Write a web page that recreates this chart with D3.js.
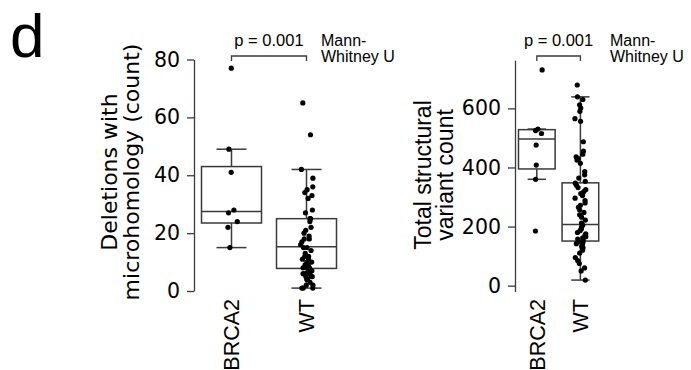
<!DOCTYPE html>
<html>
<head>
<meta charset="utf-8">
<script src="https://cdn.jsdelivr.net/npm/d3@7"></script>
<style>
body { margin: 0; background: #fff; }
svg { display: block; }
</style>
</head>
<body>
<svg id="chart" width="691" height="370"></svg>
<script>
var categories = ["BRCA2", "WT"];

// deletions with microhomology (count)
var delBRCA2 = [77, 49, 41, 28, 27, 24, 22, 15];
var delWT = [65, 54, 42, 39, 36, 35, 34, 33, 32, 28, 27, 25, 25, 24, 22, 21, 20, 19,
	18, 18, 17, 16, 15, 15, 14, 13, 12, 12, 11, 11, 10, 10, 9, 9, 8, 8, 8, 7, 7, 7,
	6, 6, 6, 5, 5, 5, 4, 4, 3, 2, 2, 1, 1, 1];
var delQ1 = [23.5, 7.8];
var delMedian = [27.5, 15.3];
var delQ3 = [43, 25];
var delWhiskerLo = [15, 1];
var delWhiskerHi = [49, 42];
var delTicks = [0, 20, 40, 60, 80];

// total structural variant count
var svBRCA2 = [730, 530, 525, 515, 476, 408, 360, 185];
var svWT = [679, 639, 630, 612, 601, 590, 565, 556, 487, 455, 445, 436, 430, 425, 414,
	386, 375, 364, 353, 347, 340, 332, 325, 318, 312, 305, 296, 288, 280, 272, 265,
	257, 248, 240, 232, 222, 212, 205, 198, 192, 186, 180, 175, 170, 166, 162, 158,
	154, 150, 146, 142, 138, 133, 128, 120, 110, 95, 85, 75, 60, 50, 19];
var svQ1 = [395, 151];
var svMedian = [496, 207];
var svQ3 = [528, 348];
var svWhiskerLo = [360, 19];
var svWhiskerHi = [530, 639];
var svTicks = [0, 200, 400, 600];

var pValue = "p = 0.001";

var svg = d3.select("#chart");

var INK = "#3a3a3a";
var SANS = "Liberation Sans, Arial, sans-serif";

svg.append("text") //
.attr("x", 10) //
.attr("y", 57) //
.attr("font-family", SANS) //
.attr("font-size", 62) //
.attr("fill", "#000") //
.text("d");

function drawPanel(p) {

	var g = svg.append("g");

	var x = d3.scaleLinear().domain([ 0, 2 ]).range(p.xRange);
	var y = d3.scaleLinear().domain(p.yDomain).range(p.yRange);
	var unit = x(1) - x(0);
	var boxW = unit * p.boxFrac;

	// y axis
	var axis = g.append("g") //
	.attr("transform", "translate(" + p.xRange[0] + ",0)") //
	.call(d3.axisLeft(y).tickValues(p.ticks).tickSize(7).tickSizeOuter(0)
			.tickPadding(7));
	axis.select(".domain").attr("stroke", INK).attr("stroke-width", 1.3);
	axis.selectAll(".tick line").attr("stroke", INK).attr("stroke-width", 1.3);
	axis.selectAll(".tick text") //
	.attr("font-family", "DejaVu Sans, sans-serif") //
	.attr("font-size", 20.5) //
	.attr("fill", "#000");

	// axis title (two lines)
	var title = g.append("text") //
	.attr("transform", "translate(" + p.titleX + "," + p.titleY + ") rotate(-90)") //
	.attr("text-anchor", "middle") //
	.attr("font-family", p.titleFont) //
	.attr("font-size", p.titleSize) //
	.attr("fill", "#000");
	title.selectAll("tspan").data(p.title).enter().append("tspan") //
	.attr("x", 0) //
	.attr("dy", function(d, i) {
		return (i === 0 ? 0 : p.titleLead);
	}) //
	.text(function(d) {
		return (d);
	});

	// category labels
	g.selectAll(".cat").data(categories).enter().append("text") //
	.attr("class", "cat") //
	.attr("transform", function(d, i) {
		return ("translate(" + x(i + 0.5) + "," + p.catY + ") rotate(-90)");
	}) //
	.attr("text-anchor", "end") //
	.attr("dy", "0.36em") //
	.attr("font-family", SANS) //
	.attr("font-size", 21.5) //
	.attr("fill", "#000") //
	.text(function(d) {
		return (d);
	});

	// boxes
	categories.forEach(function(c, i) {

		var cx = x(i + 0.5);

		g.append("line") //
		.attr("x1", cx).attr("x2", cx) //
		.attr("y1", y(p.whiskerHi[i])).attr("y2", y(p.q3[i])) //
		.attr("stroke", INK).attr("stroke-width", 1.5);
		g.append("line") //
		.attr("x1", cx).attr("x2", cx) //
		.attr("y1", y(p.q1[i])).attr("y2", y(p.whiskerLo[i])) //
		.attr("stroke", INK).attr("stroke-width", 1.5);

		[ p.whiskerHi[i], p.whiskerLo[i] ].forEach(function(v) {
			g.append("line") //
			.attr("x1", cx - boxW / 4).attr("x2", cx + boxW / 4) //
			.attr("y1", y(v)).attr("y2", y(v)) //
			.attr("stroke", INK).attr("stroke-width", 1.5);
		});

		g.append("rect") //
		.attr("x", cx - boxW / 2) //
		.attr("y", y(p.q3[i])) //
		.attr("width", boxW) //
		.attr("height", y(p.q1[i]) - y(p.q3[i])) //
		.attr("fill", "none") //
		.attr("stroke", INK) //
		.attr("stroke-width", 1.5);

		g.append("line") //
		.attr("x1", cx - boxW / 2).attr("x2", cx + boxW / 2) //
		.attr("y1", y(p.median[i])).attr("y2", y(p.median[i])) //
		.attr("stroke", INK).attr("stroke-width", 1.5);

	});

	// jittered points
	var rnd = d3.randomUniform.source(d3.randomLcg(p.seed))(-p.jitter, p.jitter);
	p.points.forEach(function(values, i) {

		g.selectAll(".pt" + i).data(values).enter().append("circle") //
		.attr("class", "pt" + i) //
		.attr("cx", function() {
			return (x(i + 0.5) + rnd());
		}) //
		.attr("cy", function(d) {
			return (y(d));
		}) //
		.attr("r", 2.6) //
		.attr("fill", "#000");

	});

	// significance bracket
	var by = p.bracketY;
	g.append("path") //
	.attr("d", "M" + x(0.5) + "," + (by + 5) + "V" + by + "H" + x(1.5) + "V" + (by + 5)) //
	.attr("fill", "none") //
	.attr("stroke", INK) //
	.attr("stroke-width", 1.3);

	g.append("text") //
	.attr("x", x(1)) //
	.attr("y", by - 10) //
	.attr("text-anchor", "middle") //
	.attr("font-family", SANS) //
	.attr("font-size", 16.5) //
	.attr("fill", "#000") //
	.text(pValue);

	var test = g.append("text") //
	.attr("x", p.testX) //
	.attr("y", by - 10) //
	.attr("font-family", SANS) //
	.attr("font-size", 16) //
	.attr("fill", "#000");
	test.append("tspan").attr("x", p.testX).text("Mann-");
	test.append("tspan").attr("x", p.testX).attr("dy", 16).text("Whitney U");

}// END: drawPanel

drawPanel({
	xRange : [ 194, 344 ],
	boxFrac : 0.8,
	yDomain : [ 0, 80 ],
	yRange : [ 291, 59.5 ],
	ticks : delTicks,
	points : [ delBRCA2, delWT ],
	q1 : delQ1,
	median : delMedian,
	q3 : delQ3,
	whiskerLo : delWhiskerLo,
	whiskerHi : delWhiskerHi,
	title : [ "Deletions with", "microhomology (count)" ],
	titleFont : "DejaVu Sans, sans-serif",
	titleSize : 22,
	titleLead : 22,
	titleX : 117,
	titleY : 172,
	catY : 299,
	jitter : 7,
	seed : 0.21,
	bracketY : 56,
	testX : 321
});

drawPanel({
	xRange : [ 515, 602.2 ],
	boxFrac : 0.84,
	yDomain : [ -20, 763 ],
	yRange : [ 291.6, 60.2 ],
	ticks : svTicks,
	points : [ svBRCA2, svWT ],
	q1 : svQ1,
	median : svMedian,
	q3 : svQ3,
	whiskerLo : svWhiskerLo,
	whiskerHi : svWhiskerHi,
	title : [ "Total structural", "variant count" ],
	titleFont : SANS,
	titleSize : 23,
	titleLead : 22,
	titleX : 431,
	titleY : 175,
	catY : 299,
	jitter : 5.5,
	seed : 0.67,
	bracketY : 56,
	testX : 610
});
</script>
</body>
</html>
